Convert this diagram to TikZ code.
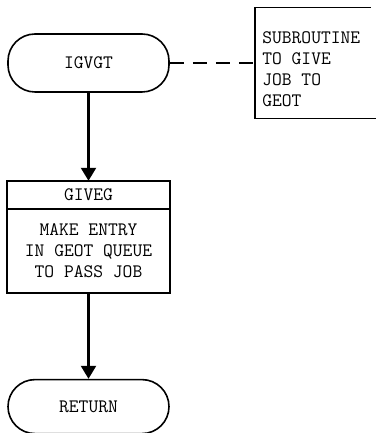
\documentclass[tikz,border=0pt]{standalone}
\usepackage{fontspec}
\usepackage{tikz}
\usetikzlibrary{arrows.meta,positioning}

\begin{document}
\begin{tikzpicture}[
    x=1pt, y=1pt,
    font=\fontsize{19}{21}\selectfont\ttfamily,
    >={Triangle[width=15pt,length=13pt]},
    term/.style={draw, rounded corners=27pt, minimum width=161pt,
                 minimum height=56pt, line width=1.6pt},
    box/.style={draw, minimum width=163pt, align=center, outer sep=0pt,
                line width=1.6pt},
    flow/.style={->, line width=2.2pt},
    tie/.style={line width=1.8pt, dash pattern=on 14pt off 9pt},
    bracket/.style={minimum width=116pt, minimum height=111pt, outer sep=0pt}
]
\useasboundingbox (0,0) rectangle (379,433);
\node[term, minimum height=58pt] (igvgt) at (88.5,370) {IGVGT};
\node[bracket, right=85pt of igvgt] (tab) {};
\node[anchor=west, align=left] (note) at ([xshift=4pt, yshift=-6pt]tab.west)
    {SUBROUTINE\\TO GIVE\\JOB TO\\GEOT};
\node[box, minimum height=28pt, below=88pt of igvgt] (giveg) {GIVEG};
\node[box, minimum height=84pt, below=0pt of giveg] (gbody)
    {MAKE ENTRY\\IN GEOT QUEUE\\TO PASS JOB};
\node[term, minimum height=54pt, below=86pt of gbody] (return) {RETURN};
\draw[flow] (igvgt) -- (giveg);
\draw[flow] (gbody) -- (return);
\draw[tie] (igvgt.east) -- (tab.west);
\draw[line width=1.4pt] (tab.north east) -- (tab.north west) -- (tab.south west)
    -- ([xshift=5pt]tab.south east);
\end{tikzpicture}
\end{document}
